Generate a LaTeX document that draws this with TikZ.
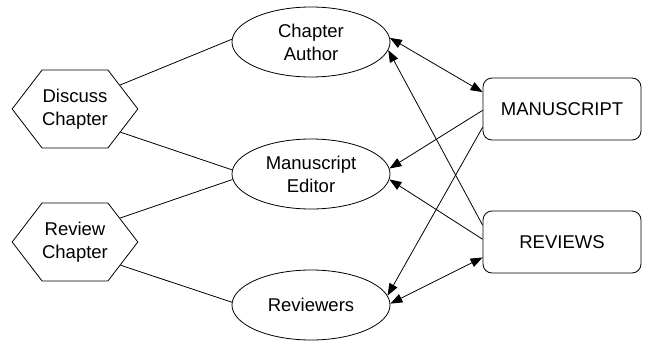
\documentclass[tikz,border=0pt]{standalone}
\usepackage{fontspec}
\setmainfont{Liberation Sans}
\usetikzlibrary{shapes.geometric,shapes.symbols,arrows.meta}

\begin{document}
\begin{tikzpicture}[x=1pt,y=-1pt,
  every node/.style={font=\fontsize{18.5}{23}\selectfont, align=center, inner sep=0pt, line width=0.8pt},
  role/.style={draw, ellipse, minimum width=158pt, minimum height=70pt},
  task/.style={draw, signal, signal to=east and west, signal pointer angle=105,
               minimum width=125pt, minimum height=78pt},
  doc/.style={draw, rectangle, rounded corners=9pt, minimum width=158pt, minimum height=62pt},
  link/.style={line width=0.8pt},
  flow/.style={line width=0.8pt, -{Triangle[length=12pt,width=9pt]}},
  both/.style={line width=0.8pt, {Triangle[length=12pt,width=9pt]}-{Triangle[length=12pt,width=9pt]}}]

  \useasboundingbox (0,0) rectangle (648,343);

  % participants
  \node[role] (ca) at (311,42)  {Chapter\\Author};
  \node[role] (me) at (311,174) {Manuscript\\Editor};
  \node[role] (rv) at (311,305) {Reviewers};

  % activities
  \node[task] (dc) at (75,109) {Discuss\\Chapter};
  \node[task] (rc) at (75,242) {Review\\Chapter};

  % artefacts
  \node[doc] (ms) at (562,109) {MANUSCRIPT};
  \node[doc] (rs) at (562,242) {REVIEWS};

  % who takes part in which activity
  \draw[link] (dc.28)  -- (ca.178);
  \draw[link] (dc.-27) -- (me.177);
  \draw[link] (rc.28)  -- (me.184);
  \draw[link] (rc.-27) -- (rv.178);

  % document flow
  \draw[both] (ca.3)   -- (ms.168);
  \draw[flow] (rs.168) -- (ca.-6);
  \draw[flow] (ms.181) -- (me.4);
  \draw[flow] (rs.178) -- (me.-4);
  \draw[flow] (ms.193) -- (rv.7);
  \draw[both] (rv.1)   -- (rs.191);
\end{tikzpicture}
\end{document}
